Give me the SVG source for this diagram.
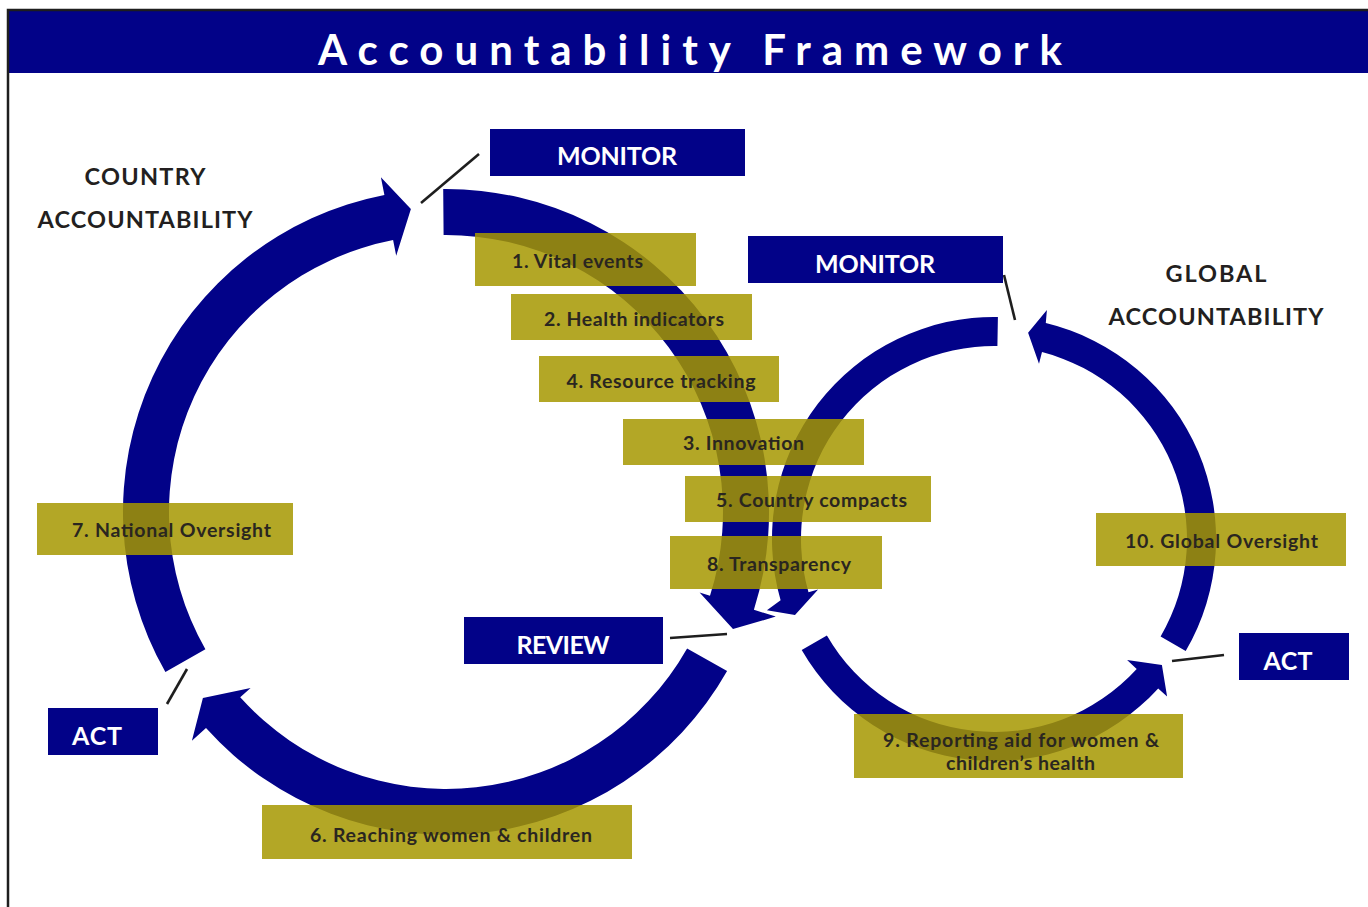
<svg xmlns="http://www.w3.org/2000/svg" width="1368" height="907" viewBox="0 0 1368 907">
  <defs>
    <style>
      .navy { fill: #020288; }
      .arrow { fill: #020288; stroke: none; }
      .step { fill: rgb(166,152,0); fill-opacity: 0.85; }
      .step-text { font-family: Lato, "Liberation Sans", sans-serif; font-size: 19.5px; font-weight: 700; fill: #2a2620; text-anchor: middle; }
      .stage-text { font-family: Lato, "Liberation Sans", sans-serif; font-size: 25px; font-weight: 700; fill: #ffffff; text-anchor: middle; }
      .heading { font-family: Lato, "Liberation Sans", sans-serif; font-size: 23.5px; font-weight: 700; fill: #231f20; text-anchor: middle; }
      .title { font-family: Lato, "Liberation Sans", sans-serif; font-size: 42px; font-weight: 700; fill: #ffffff; }
      .leader { stroke: #1e1e1e; stroke-width: 2.6; fill: none; }
    </style>
  </defs>

  <rect x="0" y="0" width="1368" height="907" fill="#ffffff"/>

  <!-- title bar and frame -->
  <g id="title">
    <rect x="8" y="10" width="1360" height="63" class="navy"/>
    <path d="M8,907 V10 H1368" stroke="#1e1e1e" stroke-width="2.5" fill="none"/>
    <text x="318" y="65" class="title" textLength="744" lengthAdjust="spacing">Accountability Framework</text>
  </g>

  <!-- headings -->
  <g id="country-heading">
    <text x="145" y="185" class="heading" textLength="121">COUNTRY</text>
    <text x="145" y="228" class="heading" textLength="215">ACCOUNTABILITY</text>
  </g>
  <g id="global-heading">
    <text x="1216" y="282" class="heading" textLength="101">GLOBAL</text>
    <text x="1216" y="325" class="heading" textLength="215">ACCOUNTABILITY</text>
  </g>

  <!-- cycle arrows: country loop (left) and global loop (right) -->
  <g id="cycle-arrows">
    <path id="country-act-to-monitor" class="arrow" d="M165.4,672.0 A323,323 0 0 1 384.4,194.9 L380.9,177.3 L410.9,209.0 L396.2,255.8 L393.1,240.1 A277,277 0 0 0 205.4,649.3 Z"/>
    <path id="country-monitor-to-review" class="arrow" d="M443.2,189.0 A323,323 0 0 1 753.9,609.7 L775.8,616.6 L733.0,629.1 L699.6,592.4 L710.0,595.8 A277,277 0 0 0 443.6,235.0 Z"/>
    <path id="country-review-to-act" class="arrow" d="M727.1,671.0 A323,323 0 0 1 206.0,728.1 L191.9,740.8 L202.9,697.9 L250.6,688.0 L240.2,697.3 A277,277 0 0 0 687.1,648.4 Z"/>
    <path id="global-act-to-monitor" class="arrow" d="M1185.7,651.0 A222,222 0 0 0 1045.8,323.1 L1046.9,310.0 L1028.1,332.8 L1039.0,363.7 L1042.0,352.1 A193,193 0 0 1 1160.6,636.4 Z"/>
    <path id="global-monitor-to-review" class="arrow" d="M997.9,317.0 A222,222 0 0 0 780.6,600.2 L766.9,610.2 L795.0,615.0 L818.1,589.4 L808.5,592.2 A193,193 0 0 1 997.4,346.0 Z"/>
    <path id="global-review-to-act" class="arrow" d="M801.7,650.0 A222,222 0 0 0 1158.2,688.4 L1167.1,696.5 L1161.9,665.1 L1127.1,660.1 L1136.7,668.9 A193,193 0 0 1 826.9,635.5 Z"/>
  </g>

  <!-- leader lines from stage labels to the cycle gaps -->
  <g id="connectors">
    <line class="leader" x1="421" y1="203" x2="479" y2="154"/>
    <line class="leader" x1="1004" y1="275" x2="1015" y2="320"/>
    <line class="leader" x1="670" y1="638" x2="727" y2="634"/>
    <line class="leader" x1="167" y1="704" x2="187" y2="669"/>
    <line class="leader" x1="1172" y1="661" x2="1224" y2="655"/>
  </g>

  <!-- stage labels -->
  <g id="country-monitor">
    <rect x="490" y="129" width="255" height="47" class="navy"/>
    <text x="617" y="165" class="stage-text" textLength="120">MONITOR</text>
  </g>
  <g id="global-monitor">
    <rect x="748" y="236" width="255" height="47" class="navy"/>
    <text x="875" y="273" class="stage-text" textLength="120">MONITOR</text>
  </g>
  <g id="country-review">
    <rect x="464" y="617" width="199" height="47" class="navy"/>
    <text x="563" y="654" class="stage-text" textLength="93">REVIEW</text>
  </g>
  <g id="country-act">
    <rect x="48" y="708" width="110" height="47" class="navy"/>
    <text x="97" y="745" class="stage-text" textLength="50">ACT</text>
  </g>
  <g id="global-act">
    <rect x="1239" y="633" width="110" height="47" class="navy"/>
    <text x="1288" y="670" class="stage-text" textLength="49">ACT</text>
  </g>

  <!-- numbered commitments -->
  <g id="step-1">
    <rect x="475" y="233" width="221" height="53" class="step"/>
    <text x="577.5" y="268" class="step-text" textLength="131">1. Vital events</text>
  </g>
  <g id="step-2">
    <rect x="511" y="294" width="241" height="46" class="step"/>
    <text x="634" y="326" class="step-text" textLength="180">2. Health indicators</text>
  </g>
  <g id="step-4">
    <rect x="539" y="356" width="240" height="46" class="step"/>
    <text x="661" y="388" class="step-text" textLength="189">4. Resource tracking</text>
  </g>
  <g id="step-3">
    <rect x="623" y="419" width="241" height="46" class="step"/>
    <text x="743.5" y="450" class="step-text" textLength="121">3. Innovation</text>
  </g>
  <g id="step-5">
    <rect x="685" y="476" width="246" height="46" class="step"/>
    <text x="811.5" y="507" class="step-text" textLength="191">5. Country compacts</text>
  </g>
  <g id="step-8">
    <rect x="670" y="536" width="212" height="53" class="step"/>
    <text x="779" y="571" class="step-text" textLength="144">8. Transparency</text>
  </g>
  <g id="step-7">
    <rect x="37" y="503" width="256" height="52" class="step"/>
    <text x="171.5" y="537" class="step-text" textLength="199">7. National Oversight</text>
  </g>
  <g id="step-10">
    <rect x="1096" y="513" width="250" height="53" class="step"/>
    <text x="1221.5" y="548" class="step-text" textLength="193">10. Global Oversight</text>
  </g>
  <g id="step-9">
    <rect x="854" y="714" width="329" height="64" class="step"/>
    <text x="1021" y="747" class="step-text" textLength="276">9. Reporting aid for women &amp;</text>
    <text x="1020.5" y="770" class="step-text" textLength="149">children’s health</text>
  </g>
  <g id="step-6">
    <rect x="262" y="805" width="370" height="54" class="step"/>
    <text x="451" y="842" class="step-text" textLength="282">6. Reaching women &amp; children</text>
  </g>
</svg>
